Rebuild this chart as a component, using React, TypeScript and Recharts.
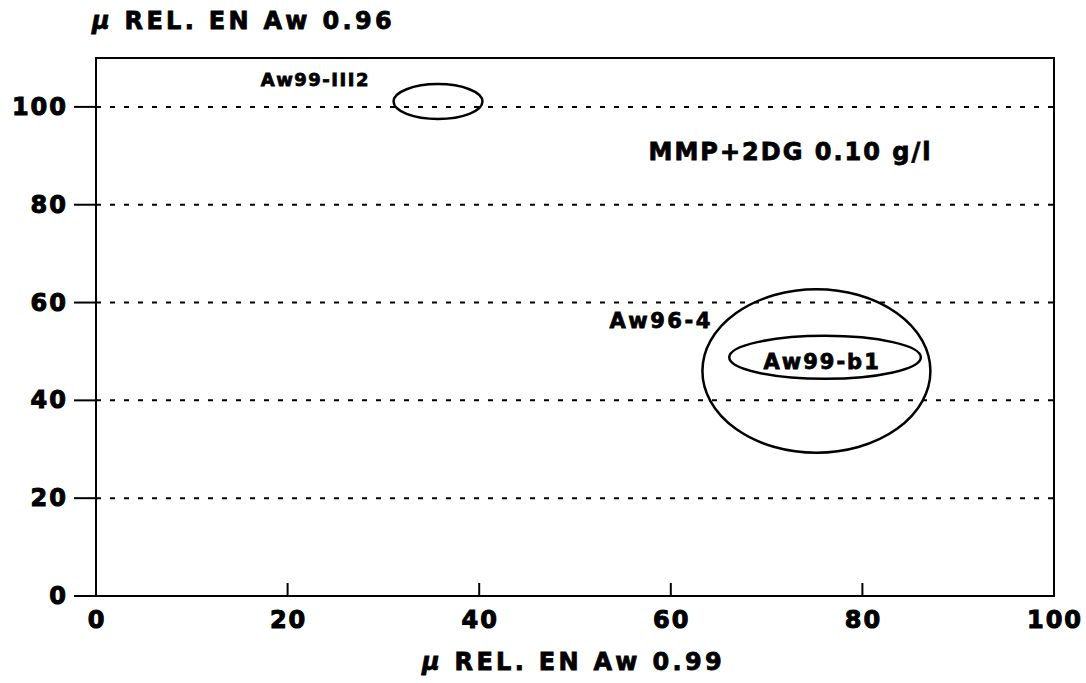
import React from 'react';
import { ScatterChart, Scatter, XAxis, YAxis, CartesianGrid, ReferenceArea, ReferenceDot } from 'recharts';

// growth zones (relative mu at aw 0.99 vs aw 0.96)
const zoneNames = ['Aw99-III2', 'Aw96-4', 'Aw99-b1'];
const zoneX = [35.7, 75.2, 76.1];
const zoneY = [101.1, 46.0, 48.8];
const zoneRx = [4.64, 11.9, 10.0];
const zoneRy = [3.56, 16.7, 4.4];

// annotation texts and where they sit (data units)
const noteTexts = ['Aw99-III2', 'Aw96-4', 'Aw99-b1', 'MMP+2DG 0.10 g/l'];
const noteX = [22.9, 59.0, 75.8, 72.5];
const noteY = [105.7, 56.2, 47.9, 90.8];
const noteSizes = [18, 21, 21, 24];
const noteSpacing = [1.5, 2.5, 2, 2];

const xTicks = [0, 20, 40, 60, 80, 100];
const yTicks = [0, 20, 40, 60, 80, 100];

const FONT = '"DejaVu Sans", "Liberation Sans", sans-serif';

const centers = zoneNames.map((name, i) => ({ name, x: zoneX[i], y: zoneY[i] }));

function XTick(props: any) {
  const { x, y, payload } = props;
  const v = payload.value;
  return (
    <g>
      {v > 0 && v < 100 && <line x1={x} x2={x} y1={y} y2={y - 13} stroke="#000" strokeWidth={2} />}
      <text x={x + 1} y={y + 24} textAnchor="middle" dominantBaseline="central" fontFamily={FONT} fontWeight="bold"
        fontSize={24} letterSpacing={2} stroke="#000" strokeWidth={1} fill="#000">
        {v}
      </text>
    </g>
  );
}

function YTick(props: any) {
  const { x, y, payload } = props;
  return (
    <text x={x + 2} y={y} textAnchor="end" dominantBaseline="central" fontFamily={FONT} fontWeight="bold"
      fontSize={24} letterSpacing={2} stroke="#000" strokeWidth={1} fill="#000">
      {payload.value}
    </text>
  );
}

function EllipseShape(props: any) {
  const { x, y, width, height } = props;
  return (
    <ellipse cx={x + width / 2} cy={y + height / 2} rx={Math.abs(width) / 2} ry={Math.abs(height) / 2}
      fill="none" stroke="#000" strokeWidth={2.5} />
  );
}

const titleStyle: React.CSSProperties = {
  position: 'absolute',
  fontSize: 24,
  fontWeight: 'bold',
  whiteSpace: 'nowrap',
  letterSpacing: 3.3,
  WebkitTextStroke: '0.8px #000',
};

export default function App() {
  return (
    <div style={{ position: 'absolute', left: 0, top: 0, width: 1086, height: 683, background: '#fff', fontFamily: FONT }}>
      <div style={{ ...titleStyle, left: 92, top: 7 }}>
        <i>μ</i> REL. EN Aw 0.96
      </div>
      <div style={{ ...titleStyle, left: 422, top: 648 }}>
        <i>μ</i> REL. EN Aw 0.99
      </div>
      <ScatterChart width={1086} height={683} margin={{ top: 58, right: 32, bottom: 47, left: 0 }}>
        <CartesianGrid vertical={false} stroke="#000" strokeWidth={2} strokeDasharray="5 9" />
        <XAxis
          type="number"
          dataKey="x"
          domain={[0, 100]}
          ticks={xTicks}
          axisLine={false}
          tickLine={false}
          tickSize={0}
          tickMargin={0}
          height={40}
          tick={<XTick />}
          interval={0}
        />
        <YAxis
          type="number"
          dataKey="y"
          domain={[0, 110]}
          ticks={yTicks}
          width={96}
          axisLine={false}
          tickLine={{ stroke: '#000', strokeWidth: 2 }}
          tickSize={22}
          tickMargin={8}
          tick={<YTick />}
          interval={0}
        />
        <ReferenceArea x1={0} x2={100} y1={0} y2={110} fill="none" stroke="#000" strokeWidth={2} fillOpacity={0} ifOverflow="visible" />
        {zoneNames.map((name, i) => (
          <ReferenceArea
            key={name}
            x1={zoneX[i] - zoneRx[i]}
            x2={zoneX[i] + zoneRx[i]}
            y1={zoneY[i] - zoneRy[i]}
            y2={zoneY[i] + zoneRy[i]}
            shape={<EllipseShape />}
            ifOverflow="visible"
          />
        ))}
        {noteTexts.map((t, i) => (
          <ReferenceDot
            key={t + i}
            x={noteX[i]}
            y={noteY[i]}
            r={0}
            ifOverflow="visible"
            shape={(p: any) => (
              <text x={p.cx} y={p.cy} textAnchor="middle" dominantBaseline="central" fontFamily={FONT} fontWeight="bold"
                fontSize={noteSizes[i]} letterSpacing={noteSpacing[i]} stroke="#000" strokeWidth={0.8} fill="#000">
                {t}
              </text>
            )}
          />
        ))}
        <Scatter data={centers} shape={() => <g />} isAnimationActive={false} />
      </ScatterChart>
    </div>
  );
}
